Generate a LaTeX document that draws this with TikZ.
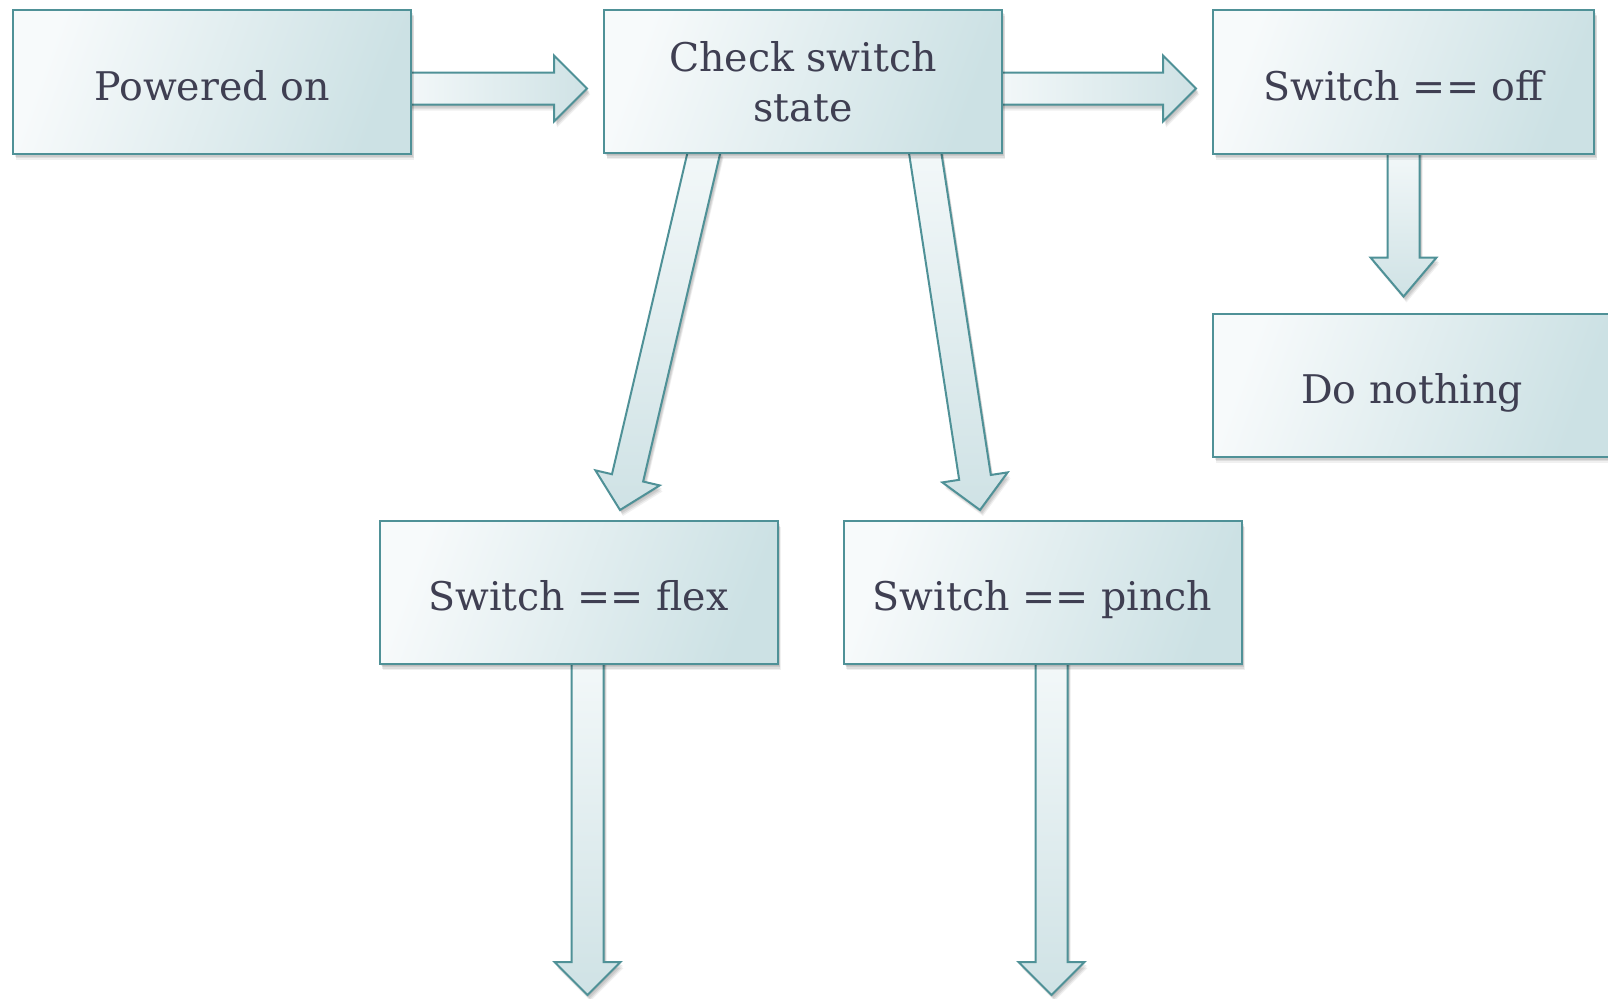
\documentclass[tikz,border=0pt]{standalone}
\usepackage{fontspec}
\setmainfont{DejaVu Serif}
\usetikzlibrary{calc}
\definecolor{edge}{HTML}{4F9197}
\definecolor{ink}{HTML}{3F3F52}
\definecolor{boxl}{HTML}{F7FAFB}
\definecolor{boxd}{HTML}{CCE1E4}
\definecolor{arl}{HTML}{F3F8F9}
\definecolor{ard}{HTML}{CFE2E5}
\pgfdeclarelayer{bg}
\pgfdeclarelayer{paper}
\pgfsetlayers{paper,bg,main}
\newcommand\blockarrow[4][33pt]{%
  \coordinate (hb) at ($(#3)!#1!(#2)$);
  \path[arrowbox,#4]
    ($(#2)!16pt!90:(#3)$) -- ($(hb)!16pt!90:(#3)$) -- ($(hb)!33pt!90:(#3)$)
    -- (#3)
    -- ($(hb)!33pt!-90:(#3)$) -- ($(hb)!16pt!-90:(#3)$) -- ($(#2)!16pt!-90:(#3)$) -- cycle;
}
\begin{document}
\begin{tikzpicture}[x=1pt,y=-1pt,
  softshadow/.style={
    preaction={fill=black, fill opacity=0.07, transform canvas={xshift=1pt,yshift=-1.5pt}},
    preaction={fill=black, fill opacity=0.08, transform canvas={xshift=2pt,yshift=-3pt}},
    preaction={fill=black, fill opacity=0.08, transform canvas={xshift=2.5pt,yshift=-4.5pt}},
    preaction={fill=black, fill opacity=0.06, transform canvas={xshift=3pt,yshift=-6pt}}},
  flowbox/.style={softshadow, draw=edge, line width=2pt, rectangle, minimum width=398pt,
    minimum height=143pt, inner sep=0pt, align=center, text=ink,
    font=\fontsize{39.5}{50}\selectfont,
    left color=boxl, right color=boxd, shading angle=70},
  oneline/.style={text height=42pt, text depth=6pt},
  arrowbox/.style={softshadow, draw=edge, line width=2pt, line join=miter},
  hshade/.style={left color=arl, right color=ard},
  vshade/.style={top color=arl, bottom color=ard}]
\useasboundingbox (0,0) rectangle (1608,998);
\begin{pgfonlayer}{paper}
  \fill[white] (0,0) rectangle (1608,998);
\end{pgfonlayer}

\node[flowbox, oneline] (A) at (212,82) {Powered on};
\node[flowbox] (B) at (803,81.5) {Check switch\\state};
\node[flowbox, oneline, minimum width=381pt] (C) at (1403.5,82) {Switch == off};
\node[flowbox, oneline] (D) at (1412,385) {Do nothing};
\node[flowbox, oneline] (E) at (578.5,592.5) {Switch == flex};
\node[flowbox, oneline] (F) at (1042.5,592.5) {Switch == pinch};

\coordinate (a1) at ([xshift=-6pt,yshift=-6.5pt]A.east);
\coordinate (b0) at ([xshift=-16pt,yshift=-7pt]B.west);
\coordinate (b1) at ([xshift=-6pt,yshift=-7pt]B.east);
\coordinate (c0) at ([xshift=-16pt,yshift=-6.5pt]C.west);
\coordinate (c1) at ([yshift=6pt]C.south);
\coordinate (d0) at ($(C.south |- D.north)+(0,-16)$);
\coordinate (b2) at ([xshift=-98pt,yshift=6pt]B.south);
\coordinate (e0) at ($(E.north)+(41.5,-10)$);
\coordinate (b3) at ([xshift=121.4pt,yshift=6pt]B.south);
\coordinate (f0) at ($(F.north)+(-62.5,-10)$);
\coordinate (e1) at ([xshift=9pt,yshift=6pt]E.south);
\coordinate (eout) at ($(E.south)+(9,330)$);
\coordinate (f1) at ([xshift=9pt,yshift=6pt]F.south);
\coordinate (fout) at ($(F.south)+(9,330)$);

\begin{pgfonlayer}{bg}
  \blockarrow{a1}{b0}{hshade}
  \blockarrow{b1}{c0}{hshade}
  \blockarrow[39pt]{c1}{d0}{vshade}
  \blockarrow{b2}{e0}{vshade}
  \blockarrow{b3}{f0}{vshade}
  \blockarrow{e1}{eout}{vshade}
  \blockarrow{f1}{fout}{vshade}
\end{pgfonlayer}
\end{tikzpicture}
\end{document}
